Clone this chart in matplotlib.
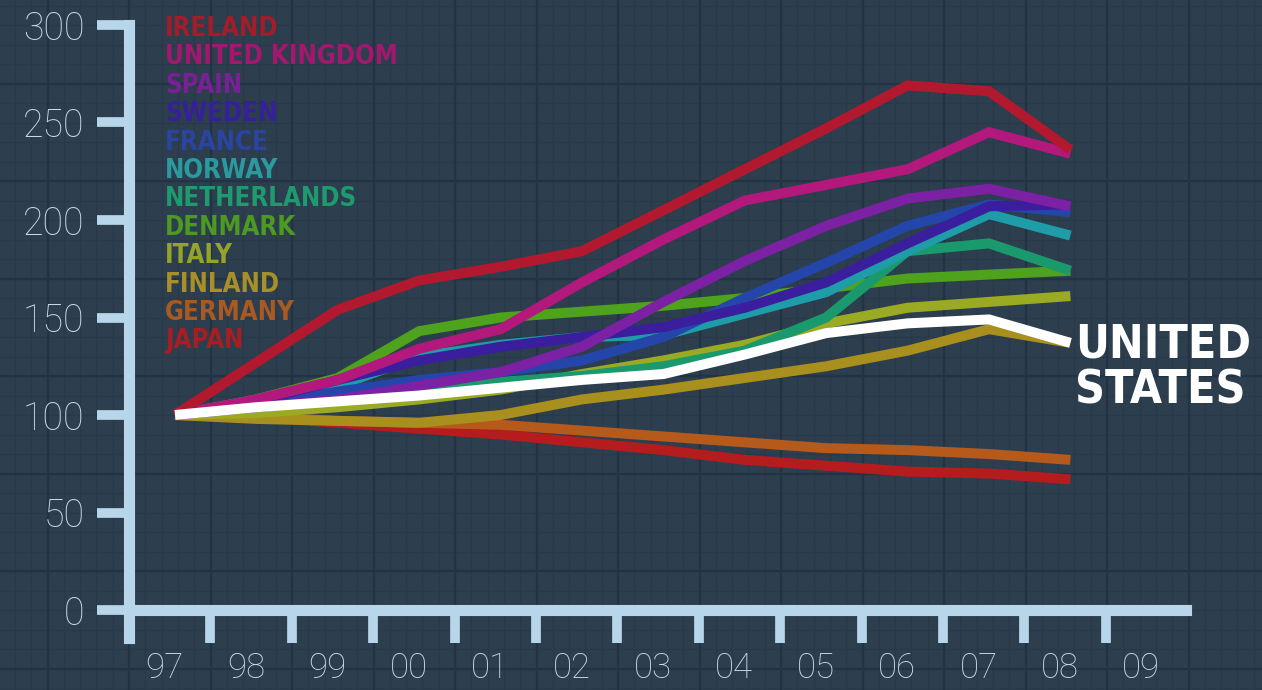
import matplotlib
matplotlib.use("Agg")
import matplotlib.pyplot as plt
from matplotlib import font_manager as fm
import numpy as np

# 指數化 (1997 = 100)
years = ["97", "98", "99", "00", "01", "02", "03", "04", "05", "06", "07", "08", "09"]
ireland = [100, 127, 154, 169, 176, 184, 205, 226, 247, 269, 266, 236]
uk = [100, 108, 118, 134, 144, 168, 190, 210, 218, 226, 245, 234]
spain = [100, 104, 108, 115, 122, 135, 158, 179, 197, 211, 216, 207]
sweden = [100, 107, 118, 128, 135, 140, 145, 155, 168, 188, 207, 208]
france = [100, 105, 112, 118, 122, 128, 140, 160, 178, 197, 208, 204]
norway = [100, 106, 115, 130, 136, 140, 141, 152, 163, 184, 203, 192]
netherlands = [100, 106, 110, 113, 117, 120, 125, 133, 150, 184, 188, 174]
denmark = [100, 108, 119, 143, 150, 153, 156, 160, 165, 170, 172, 174]
italy = [100, 101, 104, 108, 113, 121, 128, 136, 147, 155, 158, 161]
finland = [100, 98, 97, 96, 100, 108, 113, 119, 125, 133, 144, 137]
germany = [100, 99, 97, 96, 95, 92, 89, 86, 83, 82, 80, 77]
japan = [100, 99, 96, 93, 90, 86, 82, 77, 74, 71, 70, 67]
usa = [100, 104, 107, 110, 114, 118, 121, 131, 142, 147, 149, 137]

SERIES = [
    ("IRELAND", ireland, "#b3192e", "#a31c2a"),
    ("UNITED KINGDOM", uk, "#b3187c", "#a3186e"),
    ("SPAIN", spain, "#7c20a4", "#7a2096"),
    ("SWEDEN", sweden, "#3a1e9e", "#35209a"),
    ("FRANCE", france, "#2446ab", "#2a44a0"),
    ("NORWAY", norway, "#1e9ca8", "#2a9a9e"),
    ("NETHERLANDS", netherlands, "#1a9a6c", "#1f9a6e"),
    ("DENMARK", denmark, "#4ea21c", "#4c9a22"),
    ("ITALY", italy, "#9aaa22", "#94a428"),
    ("FINLAND", finland, "#a88f1e", "#a89028"),
    ("GERMANY", germany, "#b55a1a", "#a85a22"),
    ("JAPAN", japan, "#b51c1e", "#a81c22"),
]

BG = "#2d3e4e"
AXIS = "#b8d6ea"
TICK_TXT = "#c6d9e6"


def pick_font(*names):
    for n in names:
        try:
            fm.findfont(fm.FontProperties(family=n), fallback_to_default=False)
            return n
        except ValueError:
            pass
    return "DejaVu Sans"


def pick_condensed():
    """找一個有窄體粗字的字型，沒有就退回 DejaVu Sans 粗體。"""
    for fam in ("Liberation Sans Narrow", "Noto Sans", "DejaVu Sans", "Open Sans", "Roboto"):
        try:
            p = fm.findfont(fm.FontProperties(family=fam, stretch="condensed", weight="bold"),
                            fallback_to_default=False)
        except ValueError:
            continue
        if "ondensed" in p or "Narrow" in p:
            return fam, "condensed"
    return "DejaVu Sans", "normal"


NARROW, STRETCH = pick_condensed()
THIN = pick_font("Roboto", "Lato", "Open Sans", "DejaVu Sans")

fig = plt.figure(figsize=(12.62, 6.90), dpi=100, facecolor=BG)
renderer = fig.canvas.get_renderer()

# 背景方格
bg = fig.add_axes([0, 0, 1, 1], zorder=0)
bg.set_xlim(0, 1262)
bg.set_ylim(690, 0)
bg.axis("off")
gx = np.arange(129 - 81.5 * 2, 1262, 81.5 / 5)
gy = np.arange(610 - 19.5 * 32, 700, 19.5)
bg.vlines(gx, 0, 690, color="#28394a", lw=1.0)
bg.hlines(gy, 0, 1262, color="#28394a", lw=1.0)
bg.vlines(gx[::5], 0, 690, color="#223343", lw=1.6)
bg.hlines(gy[::5], 0, 1262, color="#223343", lw=1.6)

# 主圖：x 以年份序號、y 以指數值
ax = fig.add_axes([0, 0, 1, 1], zorder=1)
ax.patch.set_alpha(0)
ax.set_xlim(-2.150, 13.354)
ax.set_ylim(-41.0, 312.8)

x = np.arange(len(ireland))
for name, vals, lc, _ in SERIES[::-1]:
    ax.plot(x, vals, color=lc, lw=7.2, solid_capstyle="butt", solid_joinstyle="miter", zorder=3)
ax.plot(x, usa, color="white", lw=7.2, solid_capstyle="butt", solid_joinstyle="miter", zorder=4)

# 座標軸
for s in ("top", "right"):
    ax.spines[s].set_visible(False)
ax.spines["left"].set_position(("data", -0.565))
ax.spines["bottom"].set_position(("data", 0))
ax.spines["left"].set_bounds(-14.5, 300)
ax.spines["bottom"].set_bounds(-0.565, 12.42)
for s in ("left", "bottom"):
    ax.spines[s].set_color(AXIS)
    ax.spines[s].set_linewidth(8)

ax.set_yticks(range(0, 301, 50))
ax.set_yticklabels([str(v) for v in range(0, 301, 50)])
ax.tick_params(axis="y", length=23, width=7, color=AXIS, pad=9,
               labelsize=27, labelcolor=TICK_TXT)

ax.set_xticks(np.arange(len(years)) - 0.13)
ax.set_xticklabels(years)
ax.set_xticks(np.arange(len(years)) - 0.565, minor=True)
ax.tick_params(axis="x", which="major", length=0, pad=30,
               labelsize=25, labelcolor=TICK_TXT)
ax.tick_params(axis="x", which="minor", length=24, width=7, color=AXIS)
for lab in ax.get_xticklabels() + ax.get_yticklabels():
    lab.set_fontfamily(THIN)
    lab.set_fontweight(200)


def fit_text(t, width_px, max_size):
    """依目標寬度調整字級。"""
    w = t.get_window_extent(renderer).width
    t.set_fontsize(min(max_size, t.get_fontsize() * width_px / w))


# 圖例文字
legend_texts = []
for i, (name, _, _, tc) in enumerate(SERIES):
    t = fig.text(165 / 1262, 1 - (29 + 28.4 * i) / 690, name, color=tc,
                 fontsize=20, fontweight="bold", family=NARROW, stretch=STRETCH,
                 ha="left", va="center")
    legend_texts.append(t)
fit_text(legend_texts[1], 232, 22)
for t in legend_texts:
    t.set_fontsize(legend_texts[1].get_fontsize())

# 美國標示
us1 = fig.text(1075 / 1262, 1 - 345 / 690, "UNITED", color="white", fontsize=38,
               fontweight="bold", family=NARROW, stretch=STRETCH, ha="left", va="center")
us2 = fig.text(1075 / 1262, 1 - 391 / 690, "STATES", color="white", fontsize=38,
               fontweight="bold", family=NARROW, stretch=STRETCH, ha="left", va="center")
fit_text(us1, 176, 40)
us2.set_fontsize(us1.get_fontsize())

fig.savefig("out.png", dpi=100, facecolor=BG)
